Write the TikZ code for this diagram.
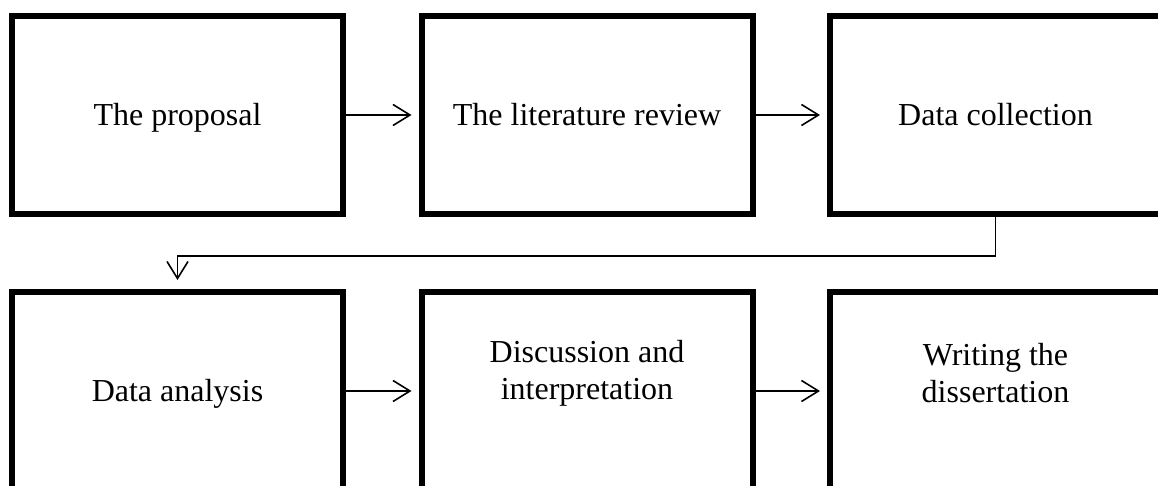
\documentclass[tikz,border=0pt]{standalone}
\usepackage{fontspec}
\setmainfont{Liberation Serif}
\usetikzlibrary{arrows.meta}
\begin{document}
\begin{tikzpicture}[x=1pt,y=-1pt,
  stagefont/.style={font=\fontsize{32}{37}\selectfont},
  stage/.style={draw,line width=6pt,rectangle,minimum width=331pt,minimum height=198pt,
    inner sep=0pt,align=center,stagefont,text height=21pt,text depth=0pt},
  twoline/.style={align=center,stagefont,inner sep=0pt,yshift=18pt},
  flow/.style={line width=1.6pt,-{Straight Barb[length=17pt,width=21pt,line width=1.6pt]},shorten >=7pt}]
  \useasboundingbox (0,0) rectangle (1158,486);
  \clip (0,0) rectangle (1158,486);
  % top row
  \node[stage] (b1) at (177.5,115) {The proposal};
  \node[stage] (b2) at (587,115) {The literature review};
  \node[stage] (b3) at (995.5,115) {Data collection};
  % bottom row
  \node[stage] (c1) at (177.5,391) {Data analysis};
  \node[stage,label={[twoline]center:Discussion and\\interpretation}] (c2) at (587,391) {};
  \node[stage,label={[twoline]center:Writing the\\dissertation}] (c3) at (995.5,391) {};
  % connectors
  \draw[flow] (b1.east) -- (b2.west);
  \draw[flow] (b2.east) -- (b3.west);
  \draw[flow] (c1.east) -- (c2.west);
  \draw[flow] (c2.east) -- (c3.west);
  \draw[flow,shorten >=9pt] (b3.south) -- ++(0,39) -| (c1.north);
\end{tikzpicture}
\end{document}
